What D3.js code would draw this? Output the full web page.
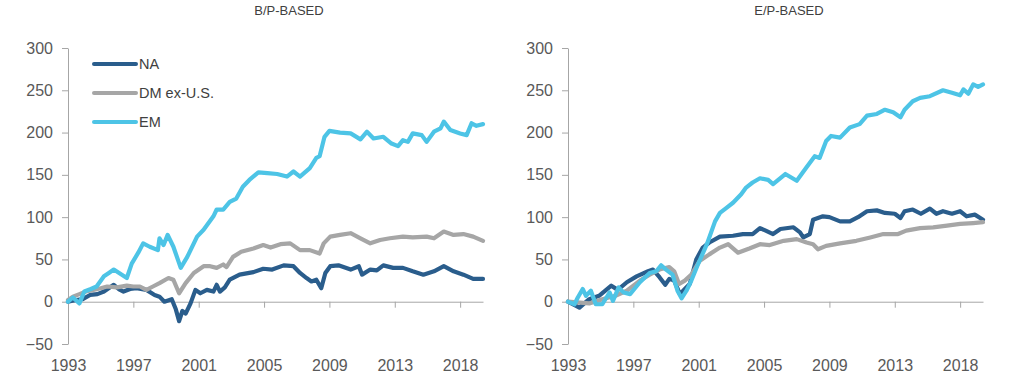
<!DOCTYPE html>
<meta charset="utf-8">
<style>
body { margin: 0; background: #fff; }
svg { font-family: "Liberation Sans", Arial, sans-serif; }
.axis path, .axis line { stroke: #a6a6a6; }
.axis text { fill: #595959; font-size: 16px; }
.title { fill: #404040; font-size: 13px; }
.legend text { fill: #404040; font-size: 14.5px; }
</style>
<body>
<script src="https://d3js.org/d3.v7.min.js"></script>
<script>

// tick values / labels
var yTicks = [-50, 0, 50, 100, 150, 200, 250, 300];
var xTicks = [1993, 1997, 2001, 2005, 2009, 2013, 2017];
var xLabels = ["1993", "1997", "2001", "2005", "2009", "2013", "2018"];

var seriesNames = ["NA", "DM ex-U.S.", "EM"];
var seriesColors = ["#2a5d8c", "#a6a6a6", "#4dc4e6"];
var panelTitles = ["B/P-BASED", "E/P-BASED"];

// B/P-based, [year, value]
var bpNA = [[1993.0,0],[1993.5,2],[1993.9,3],[1994.35,8],[1994.8,9],[1995.2,12],[1995.8,20],[1996.1,15],[1996.4,12],[1996.8,15],[1997.2,16],[1997.8,14],[1998.3,8],[1998.6,6],[1998.9,0],[1999.35,3],[1999.6,-9],[1999.8,-23],[2000.0,-11],[2000.2,-14],[2000.5,-2],[2000.8,14],[2001.1,10],[2001.5,14],[2001.9,12],[2002.1,20],[2002.3,12],[2002.6,17],[2002.9,26],[2003.5,32],[2004.35,35],[2004.95,39],[2005.5,38],[2006.2,43],[2006.8,42],[2007.2,34],[2007.6,28],[2007.9,24],[2008.2,26],[2008.5,16],[2008.75,34],[2009.05,42],[2009.55,43],[2010.3,38],[2010.8,42],[2011.0,32],[2011.5,38],[2011.9,37],[2012.3,43],[2012.9,40],[2013.5,40],[2014.1,36],[2014.75,32],[2015.4,36],[2016.0,42],[2016.6,36],[2017.2,32],[2017.8,27],[2018.4,27]];
var bpDM = [[1993.0,2],[1993.3,6],[1993.7,9],[1994.1,12],[1994.55,14],[1995.0,16],[1995.4,18],[1996.0,17],[1996.6,19],[1997.0,18],[1997.4,18],[1997.8,14],[1998.2,18],[1998.6,22],[1999.15,28],[1999.45,26],[1999.8,10],[2000.2,22],[2000.7,34],[2001.3,42],[2001.7,42],[2002.1,40],[2002.5,44],[2002.7,41],[2003.1,53],[2003.6,59],[2004.35,63],[2004.95,67],[2005.4,64],[2006.0,68],[2006.6,69],[2007.2,61],[2007.8,61],[2008.4,57],[2008.65,69],[2009.05,77],[2009.65,79],[2010.3,81],[2010.9,75],[2011.5,69],[2012.1,73],[2012.7,75],[2013.5,77],[2014.1,76],[2014.95,77],[2015.4,75],[2016.0,83],[2016.6,79],[2017.2,80],[2017.8,77],[2018.4,72]];
var bpEM = [[1993.0,0],[1993.3,5],[1993.7,-2],[1994.0,12],[1994.4,15],[1994.75,18],[1995.2,30],[1995.5,34],[1995.8,38],[1996.2,33],[1996.6,28],[1996.9,45],[1997.3,58],[1997.6,69],[1998.0,65],[1998.5,61],[1998.6,75],[1998.85,67],[1999.1,79],[1999.45,65],[1999.9,40],[2000.3,53],[2000.9,77],[2001.3,85],[2001.9,101],[2002.1,109],[2002.5,109],[2002.9,118],[2003.3,122],[2003.7,136],[2004.1,144],[2004.65,153],[2005.2,152],[2005.8,151],[2006.4,148],[2006.8,154],[2007.2,148],[2007.8,158],[2008.2,170],[2008.4,172],[2008.7,195],[2009.0,202],[2009.65,200],[2010.3,199],[2010.9,192],[2011.3,201],[2011.7,193],[2012.3,195],[2012.8,187],[2013.2,184],[2013.5,191],[2013.8,189],[2014.1,199],[2014.65,197],[2014.95,189],[2015.4,201],[2015.8,205],[2016.0,213],[2016.4,203],[2017.0,199],[2017.4,197],[2017.7,211],[2018.0,208],[2018.4,210]];

// E/P-based
var epNA = [[1993.0,0],[1993.7,-7],[1994.3,3],[1994.9,7],[1995.65,19],[1996.05,14],[1996.6,23],[1997.2,30],[1997.9,36],[1998.2,38],[1998.6,29],[1998.95,20],[1999.2,27],[1999.5,25],[1999.85,9],[2000.15,15],[2000.45,21],[2000.85,50],[2001.25,64],[2001.65,70],[2002.3,77],[2003.1,78],[2003.7,80],[2004.3,80],[2004.75,87],[2005.1,84],[2005.55,80],[2006.0,86],[2006.8,88],[2007.2,82],[2007.4,76],[2007.8,80],[2008.0,97],[2008.6,101],[2009.0,100],[2009.65,95],[2010.25,95],[2010.75,100],[2011.3,107],[2011.9,108],[2012.4,105],[2013.0,104],[2013.35,99],[2013.6,107],[2014.1,109],[2014.6,104],[2015.15,110],[2015.55,104],[2015.95,107],[2016.5,104],[2017.0,107],[2017.4,101],[2017.9,103],[2018.4,97]];
var epDM = [[1993.0,0],[1994.3,-2],[1995.1,3],[1995.9,7],[1996.6,13],[1997.4,25],[1998.0,32],[1998.6,38],[1999.2,41],[1999.5,36],[1999.8,21],[2000.15,25],[2000.55,32],[2001.05,48],[2001.65,56],[2002.3,64],[2002.8,68],[2003.4,58],[2004.1,63],[2004.75,68],[2005.35,67],[2006.2,72],[2007.0,74],[2007.6,70],[2008.0,68],[2008.3,62],[2008.8,66],[2009.65,69],[2010.65,72],[2011.5,76],[2012.3,80],[2013.2,80],[2013.7,84],[2014.55,87],[2015.35,88],[2016.2,90],[2017.0,92],[2017.8,93],[2018.4,94]];
var epEM = [[1993.0,0],[1993.4,-3],[1993.6,5],[1993.9,15],[1994.1,7],[1994.4,13],[1994.7,-3],[1995.1,-3],[1995.55,11],[1995.75,1],[1996.1,17],[1996.4,11],[1996.8,9],[1997.4,23],[1998.0,34],[1998.4,36],[1998.7,43],[1999.0,38],[1999.4,32],[1999.7,13],[1999.95,4],[2000.25,13],[2000.55,25],[2000.95,44],[2001.5,68],[2002.0,95],[2002.3,105],[2002.7,111],[2003.1,117],[2003.6,127],[2003.9,135],[2004.3,141],[2004.75,146],[2005.25,144],[2005.55,139],[2006.3,151],[2007.0,143],[2007.6,159],[2008.1,172],[2008.4,170],[2008.8,190],[2009.1,196],[2009.65,194],[2010.25,206],[2010.85,210],[2011.3,220],[2011.9,222],[2012.4,227],[2012.9,224],[2013.35,218],[2013.6,227],[2014.1,237],[2014.55,241],[2015.15,243],[2015.95,250],[2016.5,247],[2017.0,244],[2017.2,251],[2017.5,246],[2017.8,257],[2018.1,254],[2018.4,257]];

var panels = [[bpNA, bpDM, bpEM], [epNA, epDM, epEM]];

var w = 1012, h = 376;
var margin = {top: 48, left: 68},
    width = 415,
    height = 296,
    panelGap = 500;

var svg = d3.select("body").append("svg")
    .attr("width", w)
    .attr("height", h);

var x = d3.scaleLinear().domain([1993, 2018.4]).range([0, width]);
var y = d3.scaleLinear().domain([-50, 300]).range([height, 0]);

var line = d3.line()
    .x(function(d) { return x(d[0]); })
    .y(function(d) { return y(d[1]); });

panels.forEach(function(series, p) {
    var g = svg.append("g")
        .attr("transform", "translate(" + (margin.left + p * panelGap) + "," + margin.top + ")");

    svg.append("text")
        .attr("class", "title")
        .attr("x", margin.left + p * panelGap + 221)
        .attr("y", 15)
        .attr("text-anchor", "middle")
        .text(panelTitles[p]);

    // y axis
    g.append("g")
        .attr("class", "axis")
        .call(d3.axisLeft(y).tickValues(yTicks).tickSize(6).tickSizeOuter(0).tickPadding(9));

    // x axis line at zero
    g.append("g")
        .attr("class", "axis")
        .attr("transform", "translate(0," + y(0) + ")")
        .call(d3.axisBottom(x).tickValues(xTicks).tickSize(6).tickSizeOuter(0).tickFormat(""));

    // year labels along the bottom
    var lab = g.append("g")
        .attr("class", "axis")
        .attr("transform", "translate(0," + height + ")")
        .call(d3.axisBottom(x).tickValues(xTicks).tickSize(0).tickPadding(16)
            .tickFormat(function(d, i) { return xLabels[i]; }));
    lab.select(".domain").remove();

    series.forEach(function(data, i) {
        g.append("path")
            .datum(data)
            .attr("fill", "none")
            .attr("stroke", seriesColors[i])
            .attr("stroke-width", 4.2)
            .attr("stroke-linejoin", "round")
            .attr("stroke-linecap", "round")
            .attr("d", line);
    });
});

// legend (left panel)
var legend = svg.append("g").attr("class", "legend");
seriesNames.forEach(function(name, i) {
    var ly = 64 + i * 29;
    legend.append("line")
        .attr("x1", 94).attr("x2", 136)
        .attr("y1", ly).attr("y2", ly)
        .attr("stroke", seriesColors[i])
        .attr("stroke-width", 4)
        .attr("stroke-linecap", "round");
    legend.append("text")
        .attr("x", 139)
        .attr("y", ly)
        .attr("dy", "0.35em")
        .text(name);
});

</script>
</body>
